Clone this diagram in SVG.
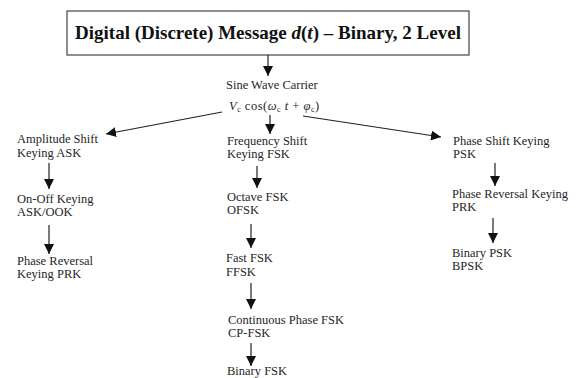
<svg xmlns="http://www.w3.org/2000/svg" width="576" height="378" viewBox="0 0 576 378">
  <style>
    .lbl { font-family: "Liberation Serif", "Times New Roman", serif; font-size: 12.5px; fill: #262626; }
    .ttl { font-family: "Liberation Serif", "Times New Roman", serif; font-size: 19px; font-weight: bold; fill: #111; }
    .con { stroke: #222; stroke-width: 1.2; fill: none; marker-end: url(#head); }
    .it { font-style: italic; }
    .sub { font-size: 8px; }
  </style>
  <defs>
    <marker id="head" viewBox="0 0 10 10" refX="10" refY="5" markerWidth="10" markerHeight="10" markerUnits="userSpaceOnUse" orient="auto">
      <path d="M0,0 L10,5 L0,10 Z" fill="#111"/>
    </marker>
  </defs>
  <rect width="576" height="378" fill="#fff"/>

  <g id="message">
    <rect x="67" y="11" width="402" height="44" fill="#fff" stroke="#444" stroke-width="1.2"/>
    <text class="ttl" x="268" y="39" text-anchor="middle">Digital (Discrete) Message <tspan class="it">d</tspan>(<tspan class="it">t</tspan>) – Binary, 2 Level</text>
  </g>

  <g id="carrier">
    <text class="lbl" x="226" y="89">Sine Wave Carrier</text>
    <text class="lbl" x="229" y="110" font-size="13.5" letter-spacing="0.5"><tspan class="it">V</tspan><tspan class="sub" dy="2">c</tspan><tspan dy="-2"> cos(</tspan><tspan class="it">ω</tspan><tspan class="sub" dy="2">c</tspan><tspan class="it" dy="-2"> t</tspan> + <tspan class="it">φ</tspan><tspan class="sub" dy="2">c</tspan><tspan dy="-2">)</tspan></text>
  </g>

  <g id="ask">
    <text class="lbl" x="17" y="143">Amplitude Shift</text>
    <text class="lbl" x="17" y="157">Keying ASK</text>
  </g>
  <g id="ook">
    <text class="lbl" x="17" y="203">On-Off Keying</text>
    <text class="lbl" x="17" y="216">ASK/OOK</text>
  </g>
  <g id="prk-ask">
    <text class="lbl" x="17" y="265">Phase Reversal</text>
    <text class="lbl" x="17" y="278">Keying PRK</text>
  </g>

  <g id="fsk">
    <text class="lbl" x="227" y="145">Frequency Shift</text>
    <text class="lbl" x="227" y="158">Keying FSK</text>
  </g>
  <g id="ofsk">
    <text class="lbl" x="227" y="201">Octave FSK</text>
    <text class="lbl" x="227" y="214">OFSK</text>
  </g>
  <g id="ffsk">
    <text class="lbl" x="226" y="262">Fast FSK</text>
    <text class="lbl" x="226" y="276">FFSK</text>
  </g>
  <g id="cpfsk">
    <text class="lbl" x="228" y="324">Continuous Phase FSK</text>
    <text class="lbl" x="228" y="337">CP-FSK</text>
  </g>
  <g id="bfsk">
    <text class="lbl" x="227" y="375">Binary FSK</text>
  </g>

  <g id="psk">
    <text class="lbl" x="453" y="145">Phase Shift Keying</text>
    <text class="lbl" x="453" y="158">PSK</text>
  </g>
  <g id="prk">
    <text class="lbl" x="452" y="198">Phase Reversal Keying</text>
    <text class="lbl" x="452" y="211">PRK</text>
  </g>
  <g id="bpsk">
    <text class="lbl" x="452" y="257">Binary PSK</text>
    <text class="lbl" x="452" y="270">BPSK</text>
  </g>

  <g id="connectors">
    <line class="con" x1="268" y1="55" x2="268" y2="76"/>
    <line class="con" x1="222" y1="112" x2="106" y2="134"/>
    <line class="con" x1="270" y1="115" x2="270" y2="134"/>
    <line class="con" x1="303" y1="116" x2="441" y2="137"/>
    <line class="con" x1="49" y1="163" x2="49" y2="189"/>
    <line class="con" x1="49" y1="225" x2="49" y2="254"/>
    <line class="con" x1="257" y1="166" x2="257" y2="188"/>
    <line class="con" x1="251" y1="224" x2="251" y2="248"/>
    <line class="con" x1="251" y1="283" x2="251" y2="309"/>
    <line class="con" x1="251" y1="343" x2="251" y2="366"/>
    <line class="con" x1="495" y1="163" x2="495" y2="186"/>
    <line class="con" x1="493" y1="218" x2="493" y2="243"/>
  </g>
</svg>
